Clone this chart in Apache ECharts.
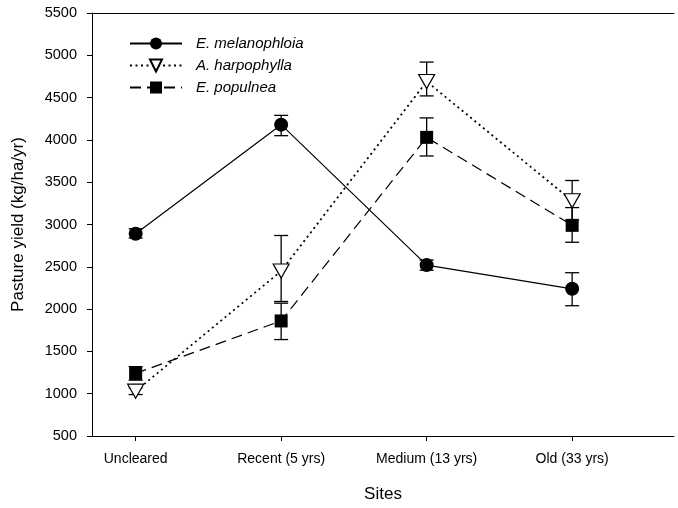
<!DOCTYPE html>
<html lang="en">
<head>
    <meta charset="UTF-8">
    <title>Pasture yield by site</title>
    <script src="https://cdn.jsdelivr.net/npm/echarts@6/dist/echarts.min.js"></script>
</head>
<body style="margin:0">
<div id="main" style="width: 678px; height: 508px;"></div>
<script>
    // sites on the x axis, plotted at 0..3
    var sites = ['Uncleared', 'Recent (5 yrs)', 'Medium (13 yrs)', 'Old (33 yrs)'];

    // mean pasture yield (kg/ha/yr) and error bar ends
    var melanophloia = [2890, 4180, 2520, 2240];
    var melanophloiaLow = [2840, 4050, 2460, 2040];
    var melanophloiaHigh = [2950, 4290, 2580, 2430];

    var harpophylla = [1030, 2450, 4690, 3280];
    var harpophyllaLow = [990, 2090, 4520, 3050];
    var harpophyllaHigh = [1070, 2870, 4920, 3520];

    var populnea = [1240, 1860, 4030, 2990];
    var populneaLow = [1160, 1640, 3810, 2790];
    var populneaHigh = [1320, 2070, 4260, 3200];

    var font = 'Liberation Sans, Arial, sans-serif';

    function pts(vals) {
        var out = [];
        for (var i = 0; i < vals.length; i++) out.push([i, vals[i]]);
        return out;
    }

    function bars(low, high) {
        var out = [];
        for (var i = 0; i < low.length; i++) out.push([i, low[i], high[i]]);
        return out;
    }

    // error bar: vertical line with a cap at each end
    function errorBar(params, api) {
        var x = api.value(0);
        var lo = api.coord([x, api.value(1)]);
        var hi = api.coord([x, api.value(2)]);
        var w = 7;
        var style = {stroke: '#000', lineWidth: 1.3};
        return {
            type: 'group',
            children: [
                {type: 'line', shape: {x1: lo[0], y1: lo[1], x2: hi[0], y2: hi[1]}, style: style},
                {type: 'line', shape: {x1: lo[0] - w, y1: lo[1], x2: lo[0] + w, y2: lo[1]}, style: style},
                {type: 'line', shape: {x1: hi[0] - w, y1: hi[1], x2: hi[0] + w, y2: hi[1]}, style: style}
            ]
        };
    }

    var myCharts = echarts.init(document.getElementById('main'));
    var option = {
        animation: false,
        backgroundColor: '#fff',
        grid: {left: 92, right: 4, top: 13, bottom: 70},

        legend: {
            orient: 'vertical',
            left: 124,
            top: 31,
            itemWidth: 52,
            itemHeight: 15,
            itemGap: 7,
            data: ['E. melanophloia', 'A. harpophylla', 'E. populnea'],
            textStyle: {fontFamily: font, fontSize: 15, fontStyle: 'italic', color: '#000', padding: [0, 0, 0, 9]}
        },

        xAxis: [{
            type: 'value',
            min: -0.3,
            max: 3.7,
            name: 'Sites',
            nameLocation: 'middle',
            nameGap: 50,
            nameTextStyle: {fontFamily: font, fontSize: 17, color: '#000'},
            splitLine: {show: false},
            axisLine: {onZero: false, lineStyle: {color: '#000', width: 1}},
            axisTick: {customValues: [0, 1, 2, 3], length: 5, lineStyle: {color: '#000'}},
            axisLabel: {
                customValues: [0, 1, 2, 3],
                margin: 16,
                fontFamily: font, fontSize: 14, color: '#000',
                formatter: function (v) { return sites[Math.round(v)]; }
            }
        }, {
            // top edge of the frame
            type: 'value',
            position: 'top',
            min: -0.3,
            max: 3.7,
            splitLine: {show: false},
            axisLine: {onZero: false, lineStyle: {color: '#000', width: 1}},
            axisTick: {show: false},
            axisLabel: {show: false}
        }],

        yAxis: {
            type: 'value',
            min: 500,
            max: 5500,
            interval: 500,
            name: 'Pasture yield (kg/ha/yr)',
            nameLocation: 'middle',
            nameGap: 65,
            nameTextStyle: {fontFamily: font, fontSize: 17, color: '#000'},
            splitLine: {show: false},
            axisLine: {show: true, onZero: false, lineStyle: {color: '#000', width: 1}},
            axisTick: {show: true, length: 5, lineStyle: {color: '#000'}},
            axisLabel: {
                margin: 15, fontFamily: font, fontSize: 14.5, color: '#000',
                formatter: function (v) { return String(v); }
            }
        },

        series: [
            {
                type: 'custom', name: 'err1', renderItem: errorBar, z: 1,
                data: bars(melanophloiaLow, melanophloiaHigh), silent: true
            },
            {
                type: 'custom', name: 'err2', renderItem: errorBar, z: 1,
                data: bars(harpophyllaLow, harpophyllaHigh), silent: true
            },
            {
                type: 'custom', name: 'err3', renderItem: errorBar, z: 1,
                data: bars(populneaLow, populneaHigh), silent: true
            },
            {
                name: 'E. melanophloia',
                type: 'line',
                z: 3,
                data: pts(melanophloia),
                symbol: 'circle',
                symbolSize: 14,
                itemStyle: {color: '#000'},
                lineStyle: {color: '#000', width: 1.2, type: 'solid'}
            },
            {
                name: 'A. harpophylla',
                type: 'line',
                z: 3,
                data: pts(harpophylla),
                symbol: 'triangle',
                symbolRotate: 180,
                symbolSize: [16, 14],
                itemStyle: {color: '#fff', borderColor: '#000', borderWidth: 1.2},
                lineStyle: {color: '#000', width: 1.8, type: [2, 3.5]}
            },
            {
                name: 'E. populnea',
                type: 'line',
                z: 3,
                data: pts(populnea),
                symbol: 'rect',
                symbolSize: 13,
                itemStyle: {color: '#000'},
                lineStyle: {color: '#000', width: 1.2, type: [11, 6]}
            }
        ]
    };
    myCharts.setOption(option);
</script>
</body>
</html>
